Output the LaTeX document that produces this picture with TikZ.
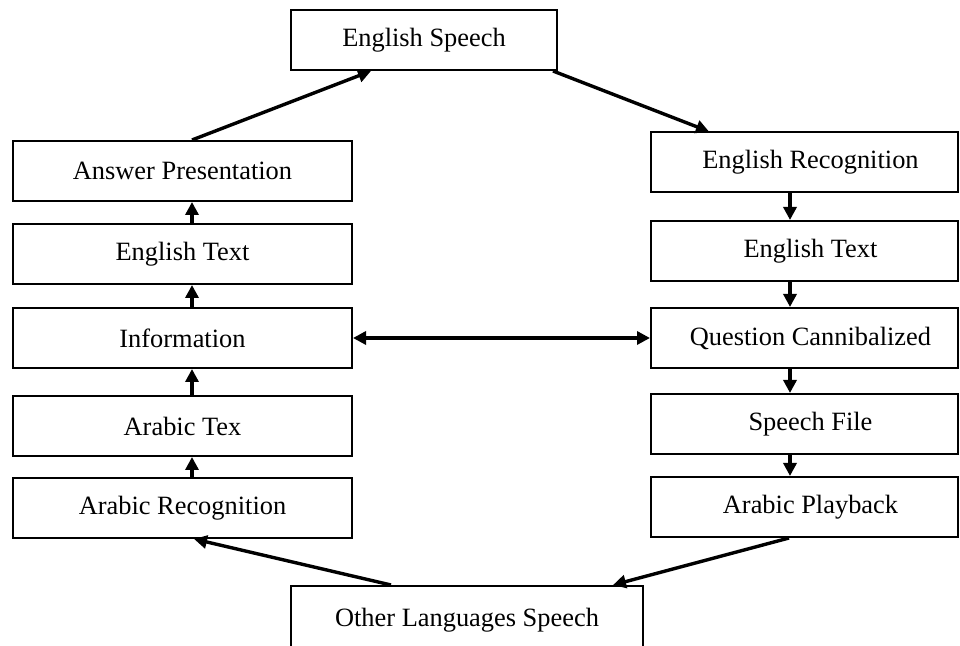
\documentclass[tikz,border=0pt]{standalone}
\usepackage{fontspec}
\setmainfont{Liberation Serif}
\usetikzlibrary{arrows.meta,calc}

\tikzset{
  stage/.style={draw,line width=1pt,minimum height=30pt,inner sep=0pt,
    font=\fontsize{13.2}{15}\selectfont},
  rstage/.style={stage,minimum width=153.5pt,execute at begin node=\hspace{6pt}},
  flow/.style={line width=1.7pt,-{Triangle[length=6.5pt,width=6.5pt]}},
}

\begin{document}
\begin{tikzpicture}[x=0.5pt,y=-0.5pt]
\useasboundingbox (0,0) rectangle (960,646);
\clip (0,0) rectangle (960,646);

% top and bottom
\node[stage,minimum width=133pt] (es) at (424,40) {English Speech};
\node[stage,minimum width=176pt,minimum height=34pt] (ols) at (467,620) {\raisebox{2pt}{Other Languages Speech}};

% left column
\node[stage,minimum width=169.5pt] (ap) at (182.5,171) {Answer Presentation};
\node[stage,minimum width=169.5pt] (etl) at (182.5,254) {English Text};
\node[stage,minimum width=169.5pt] (inf) at (182.5,338) {Information};
\node[stage,minimum width=169.5pt] (at) at (182.5,426) {Arabic Tex};
\node[stage,minimum width=169.5pt] (ar) at (182.5,508) {Arabic Recognition};

% right column
\node[rstage] (er) at (804.5,162.5) {English Recognition};
\node[rstage] (etr) at (804.5,251) {English Text};
\node[rstage] (qc) at (804.5,338) {Question Cannibalized};
\node[rstage] (sf) at (804.5,424) {Speech File};
\node[rstage] (apb) at (804.5,507) {Arabic Playback};

\coordinate (lx) at (192,0);
\coordinate (rx) at (790,0);

\draw[flow] (ar.north -| lx) -- (at.south -| lx);
\draw[flow] (at.north -| lx) -- (inf.south -| lx);
\draw[flow] (inf.north -| lx) -- (etl.south -| lx);
\draw[flow] (etl.north -| lx) -- (ap.south -| lx);

\draw[flow] (er.south -| rx) -- (etr.north -| rx);
\draw[flow] (etr.south -| rx) -- (qc.north -| rx);
\draw[flow] (qc.south -| rx) -- (sf.north -| rx);
\draw[flow] (sf.south -| rx) -- (apb.north -| rx);

\draw[flow,{Triangle[length=6.5pt,width=6.5pt]}-{Triangle[length=6.5pt,width=6.5pt]}] (inf.east) -- (qc.west);

\draw[flow] (ap.north -| lx) -- ($(es.south west)+(81,0)$);
\draw[flow] ($(es.south east)+(-5,0)$) -- ($(er.north west)+(59,0)$);
\draw[flow] ($(apb.south west)+(139,0)$) -- ($(ols.north east)+(-31,0)$);
\draw[flow] ($(ols.north west)+(101,0)$) -- ($(ar.south west)+(182,0)$);
\end{tikzpicture}
\end{document}
